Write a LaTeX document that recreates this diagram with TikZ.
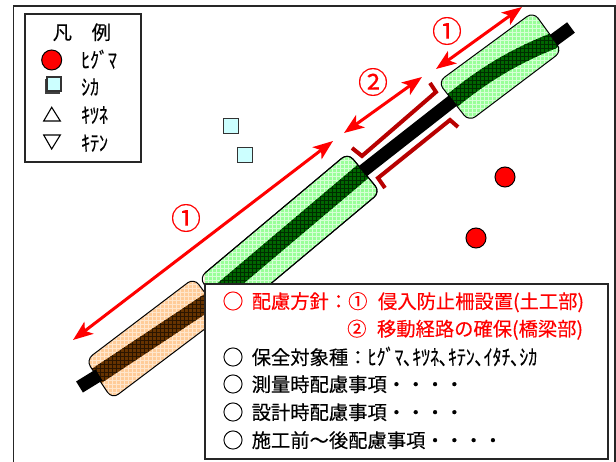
\documentclass[tikz,border=0pt]{standalone}
\usepackage{fontspec}
\usetikzlibrary{arrows.meta}
\newfontfamily\jpfont[FakeBold=0.25]{Noto Sans CJK JP}
\newfontfamily\kanafont[FakeStretch=0.83,FakeBold=0.2]{Noto Sans CJK JP}
\definecolor{rd}{HTML}{FF0000}
\definecolor{brk}{HTML}{B80000}
\definecolor{cy}{HTML}{CCFFFF}
\definecolor{grn}{HTML}{99FF99}
\definecolor{grnl}{HTML}{D6FFD6}
\definecolor{grnd}{HTML}{006600}
\definecolor{grndd}{HTML}{002B00}
\definecolor{org}{HTML}{FFCC99}
\definecolor{orgl}{HTML}{FFE6CC}
\definecolor{orgd}{HTML}{663300}
\definecolor{orgdd}{HTML}{2B1500}
% grid of fine lines over a rectangle: colour, x0, x0+4, x1, y0, y0+4, y1
\newcommand{\finegrid}[7]{%
  \foreach \gx in {#2,#3,...,#4} {\draw[#1,line width=1pt] (\gx+.5,#5) -- (\gx+.5,#7);}%
  \foreach \gy in {#5,#6,...,#7} {\draw[#1,line width=1pt] (#2,\gy+.5) -- (#4,\gy+.5);}%
}
\tikzset{
  txt/.style={inner sep=0pt,anchor=base west,font=\jpfont\fontsize{19.3}{22}\selectfont},
  kana/.style={inner sep=0pt,anchor=base west,font=\kanafont\fontsize{21.5}{24}\selectfont},
  ring/.style={inner sep=0pt,anchor=center,font=\jpfont\fontsize{21}{24}\selectfont},
  redtxt/.style={txt,text=rd},
  bigno/.style={inner sep=0pt,anchor=center,text=rd,font=\jpfont\fontsize{30}{32}\selectfont},
  dbl/.style={draw=rd,line width=3pt,{Stealth[length=20pt,width=15pt,inset=5pt]}-{Stealth[length=20pt,width=15pt,inset=5pt]}},
  bracket/.style={draw=brk,line width=4pt,miter limit=10},
  bear/.style={circle,draw=black,fill=rd,line width=1pt,minimum size=20pt,inner sep=0pt},
  deer/.style={rectangle,draw=black!80,fill=cy,line width=1.2pt,minimum size=15pt,inner sep=0pt},
  boxframe/.style={draw=black!85,line width=2pt,fill=white},
  blockedge/.style={draw=black,line width=1pt,rounded corners=8pt},
  roadline/.style={draw=black,line width=13pt},
}
\begin{document}
\begin{tikzpicture}[x=1pt,y=-1pt]
\useasboundingbox (0,0) rectangle (616,462);
\clip (0,0) rectangle (616,462);
\fill[white] (0,0) rectangle (616,462);
\draw[draw=black!85,line width=1.6pt] (13.5,6) rectangle (615,480);
% green block 2
\def\blockG{(348,153) -- (380.3,192) -- (231,317) -- (199,278) -- cycle}
\fill[grn] (196,150) rectangle (384,320);
\finegrid{grnl}{196}{200}{384}{152}{156}{320}
\begin{scope}
\clip (199.5,298.5) -- (374.5,150.5) -- (385.5,163.5) -- (210.5,311.5) -- cycle;
\fill[grnd] (196,150) rectangle (385,320);
\finegrid{grndd}{196}{200}{384}{152}{156}{320}
\end{scope}
\fill[white,even odd rule] (195,149) rectangle (385,321) [rounded corners=8pt] \blockG;
\draw[blockedge] \blockG;
% orange block
\def\blockO{(86,360) -- (194,278) -- (222,316) -- (112,399) -- cycle}
\fill[org] (80,272) rectangle (204,404);
\finegrid{orgl}{80}{84}{204}{272}{276}{404}
\begin{scope}
\clip (70.3,383.2) -- (220.3,283.6) -- (229.7,297.8) -- (79.7,397.4) -- cycle;
\fill[orgd] (80,272) rectangle (204,404);
\finegrid{orgdd}{80}{84}{204}{272}{276}{404}
\end{scope}
\begin{scope}
\clip (0,262) rectangle (204,410);
\fill[white,even odd rule] (79,271) rectangle (204,405) [rounded corners=8pt] \blockO;
\end{scope}
% green block 3
\def\blockH{(438,82) -- (533.4,11.8) -- (562,51.2) -- (469,121.5) -- cycle}
\fill[grn] (436,8) rectangle (564,124);
\finegrid{grnl}{436}{440}{564}{8}{12}{124}
\begin{scope}
\clip (437,103) -- (448,93.8) .. controls (476,71) and (506,51) .. (550.1,33.6) -- (570,20) -- (573,35) -- (555.9,48.4) .. controls (514,65) and (484,85) .. (458,106.2) -- (447,115) -- cycle;
\fill[grnd] (436,8) rectangle (564,124);
\finegrid{grndd}{436}{440}{564}{8}{12}{124}
\end{scope}
\fill[white,even odd rule] (435,7.5) rectangle (565,125) [rounded corners=8pt] \blockH;
% road, between the blocks
\draw[roadline] (79.5,387) -- (99,375);
\draw[roadline] (363,171) -- (453,100.5);
\draw[roadline] (554,40) -- (571,27.5);
\draw[blockedge] \blockH;
\draw[blockedge] \blockG;
\begin{scope}
\clip (0,262) rectangle (204,410);
\draw[blockedge] \blockO;
\end{scope}
% brackets
\draw[bracket] (430,83) -- (436,92) -- (362,156) -- (352,148);
\draw[bracket] (458,127) -- (450,120) -- (378,178) -- (385,188);
% animals
\node[bear] (bearA) at (505,177) {};
\node[bear] (bearB) at (476,238) {};
\node[deer] (deerA) at (231,126) {};
\node[deer] (deerB) at (245,155) {};
% arrows
\coordinate (a1s) at (73,340); \coordinate (a1e) at (333,141);
\coordinate (a2s) at (344,133); \coordinate (a2e) at (422,77);
\coordinate (a3s) at (436,69); \coordinate (a3e) at (522,7);
\draw[dbl] (a1s) -- (a1e);
\draw[dbl] (a2s) -- (a2e);
\draw[dbl] (a3s) -- (a3e);
\node[bigno] (n1) at (186,218) {①};
\node[bigno] (n2) at (373,82) {②};
\node[bigno] (n3) at (447,31) {①};
% legend
\draw[boxframe] (25,14) rectangle (140.5,162.5);
\node[txt] (lgA) at (52.5,39.5) {凡};
\node[txt] (lgB) at (91.5,39.5) {例};
\node[bear] (lgbear) at (51.7,60) {};
\fill[black!75] (44.5,79) rectangle (59.5,94);
\node[deer,minimum size=14pt] (lgdeer) at (54,84) {};
\draw[black,line width=1.1pt] (43.7,121) -- (60.3,121) -- (51.7,107.3) -- cycle;
\draw[black,line width=1.1pt] (43.7,135) -- (60.3,135) -- (51.7,149) -- cycle;
\node[kana] (k1) at (81,68) {ﾋｸﾞﾏ};
\node[kana] (k2) at (81,95) {ｼｶ};
\node[kana] (k3) at (81,123) {ｷﾂﾈ};
\node[kana] (k4) at (81,151) {ｷﾃﾝ};
% text box
\draw[boxframe] (205,284) rectangle (608,459);
\node[ring,text=rd] (r0b) at (233,301) {○};
\node[redtxt] (r0) at (251.5,308.5) {配慮方針：①\kern10.5pt 侵入防止柵設置(土工部)};
\node[redtxt] (r1) at (347,336) {②\kern10.5pt 移動経路の確保(橋梁部)};
\node[ring] (r2b) at (233,357) {○};
\node[txt] (r2) at (251.5,364.5) {保全対象種：};
\node[kana] (r2k) at (367.5,365) {ﾋｸﾞﾏ､ｷﾂﾈ､ｷﾃﾝ､ｲﾀﾁ､ｼｶ};
\node[ring] (r3b) at (233,384) {○};
\node[txt] (r3) at (251.5,391.5) {測量時配慮事項・・・・};
\node[ring] (r4b) at (233,412) {○};
\node[txt] (r4) at (251.5,419.5) {設計時配慮事項・・・・};
\node[ring] (r5b) at (233,440) {○};
\node[txt] (r5) at (251.5,447.5) {施工前～後配慮事項・・・・};
\end{tikzpicture}
\end{document}
